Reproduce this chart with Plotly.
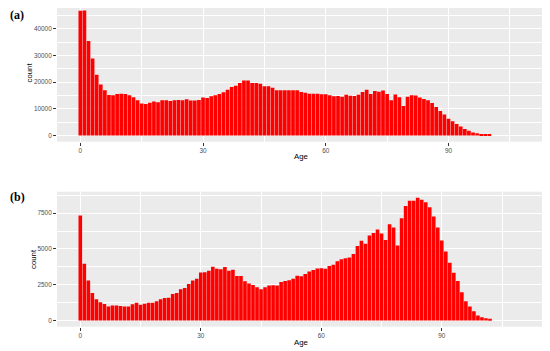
import plotly.graph_objects as go

# Age histograms, panel (a) and panel (b)
ages_a = list(range(0, 101))
counts_a = [
    46800, 46900, 35500, 28900, 22800, 19100, 17000, 15200, 15100, 15600,
    15700, 15600, 15100, 14300, 13200, 12000, 11800, 12300, 12700, 12500,
    13200, 13200, 12900, 13200, 13300, 13200, 13600, 13100, 13100, 13300,
    14200, 14100, 14700, 15100, 15600, 16200, 17200, 18200, 18700, 19700,
    20600, 20600, 19700, 19700, 19400, 18500, 18500, 17900, 17000, 17000,
    17000, 17000, 17000, 17000, 16300, 16000, 15700, 15700, 15700, 15500,
    15500, 15100, 14700, 14800, 14500, 15300, 14900, 14800, 15300, 16300,
    17200, 15600, 16700, 16400, 16900, 15600, 13200, 15400, 14300, 11100,
    14500, 15100, 15000, 14200, 13700, 13200, 12200, 10700, 9200, 7850,
    6250, 5300, 4300, 3350, 2400, 1750, 1150, 800, 550, 350,
    200,
]

ages_b = list(range(0, 103))
counts_b = [
    7330, 3970, 2800, 1930, 1480, 1275, 1160, 975, 1045, 1045,
    1020, 975, 975, 1135, 1250, 1110, 1180, 1250, 1250, 1345,
    1480, 1580, 1600, 1860, 1930, 2180, 2270, 2550, 2800, 2920,
    3360, 3380, 3480, 3760, 3620, 3580, 3740, 3480, 3550, 3110,
    3110, 2740, 2580, 2480, 2320, 2180, 2320, 2440, 2460, 2440,
    2690, 2760, 2810, 2920, 3130, 3090, 3250, 3430, 3530, 3640,
    3660, 3620, 3810, 3900, 4150, 4290, 4360, 4400, 4640, 5200,
    5570, 5360, 5940, 6120, 6360, 6080, 5620, 6730, 6500, 5240,
    7150, 8000, 8370, 8370, 8580, 8440, 8260, 7910, 7260, 6500,
    5590, 4820, 4040, 3340, 2760, 1970, 1345, 975, 650, 350,
    230, 160, 90,
]

x_ticks = [0, 30, 60, 90]
y_ticks_a = [0, 10000, 20000, 30000, 40000]
y_ticks_b = [0, 2500, 5000, 7500]

# the page body keeps an 8px margin, so the figure is drawn 8px smaller
# and every pixel position measured on the reference is shifted by 8
OFF = 8
W, H = 550 - OFF, 351 - OFF
tick_font = dict(family="Liberation Sans, Arial", size=6.4, color="#4D4D4D")
title_font = dict(family="Liberation Sans, Arial", size=7.8, color="#000000")

fig = go.Figure()
fig.add_trace(go.Bar(x=ages_a, y=counts_a, marker=dict(color="#FF0000", line=dict(width=0)),
                     xaxis="x", yaxis="y", showlegend=False))
fig.add_trace(go.Bar(x=ages_b, y=counts_b, marker=dict(color="#FF0000", line=dict(width=0)),
                     xaxis="x2", yaxis="y2", showlegend=False))


def px_x(p):
    return (p - OFF) / W


def px_y(p):
    return min(1.0, (H - (p - OFF)) / H)


def x_axis(anchor, rng):
    return dict(
        domain=[px_x(57), px_x(545)], anchor=anchor, range=rng, automargin=False,
        tickvals=x_ticks, ticks="outside", ticklen=3, tickcolor="#333333", tickwidth=1,
        tickfont=tick_font, showgrid=True, gridcolor="white", gridwidth=1.1,
        minor=dict(showgrid=True, gridcolor="white", gridwidth=0.5, dtick=15, tick0=0),
        zeroline=False, showline=False,
    )


def y_axis(anchor, top, bottom, rng, ticks):
    return dict(
        domain=[px_y(bottom), px_y(top)], anchor=anchor, range=rng, automargin=False,
        tickvals=ticks, tickformat="d", ticks="outside", ticklen=3, tickcolor="#333333",
        tickwidth=1, tickfont=tick_font, showgrid=True, gridcolor="white", gridwidth=1.1,
        minor=dict(showgrid=True, gridcolor="white", gridwidth=0.5,
                   dtick=ticks[1] / 2, tick0=0),
        zeroline=False, showline=False,
    )


fig.update_layout(
    width=W, height=H,
    margin=dict(l=0, r=0, t=0, b=0),
    paper_bgcolor="white", plot_bgcolor="#EBEBEB",
    bargap=0.1,
    xaxis=x_axis("y", [-5.7, 113.6]),
    # top of panel (a) clipped at the page margin; range trimmed to keep the scale
    yaxis=y_axis("x", 8, 141.7, [-2350, 47850], y_ticks_a),
    xaxis2=x_axis("y2", [-5.8, 115.7]),
    yaxis2=y_axis("x2", 191.7, 326.7, [-430, 9000], y_ticks_b),
)


def label(text, x, y, font, angle=0, xanchor="center"):
    fig.add_annotation(text=text, x=px_x(x), y=px_y(y), xref="paper", yref="paper",
                       xanchor=xanchor, yanchor="middle", textangle=angle,
                       showarrow=False, font=font)


panel_font = dict(family="Liberation Serif, Times New Roman", size=12, color="#000000")
label("<b>(a)</b>", 8, 15.5, panel_font, xanchor="left")
label("<b>(b)</b>", 8, 197, panel_font, xanchor="left")

# axis titles
label("count", 29.5, 73, title_font, angle=-90)
label("count", 33, 259, title_font, angle=-90)
label("Age", 301, 156, title_font)
label("Age", 301, 342.5, title_font)

fig.write_html("out.html")
